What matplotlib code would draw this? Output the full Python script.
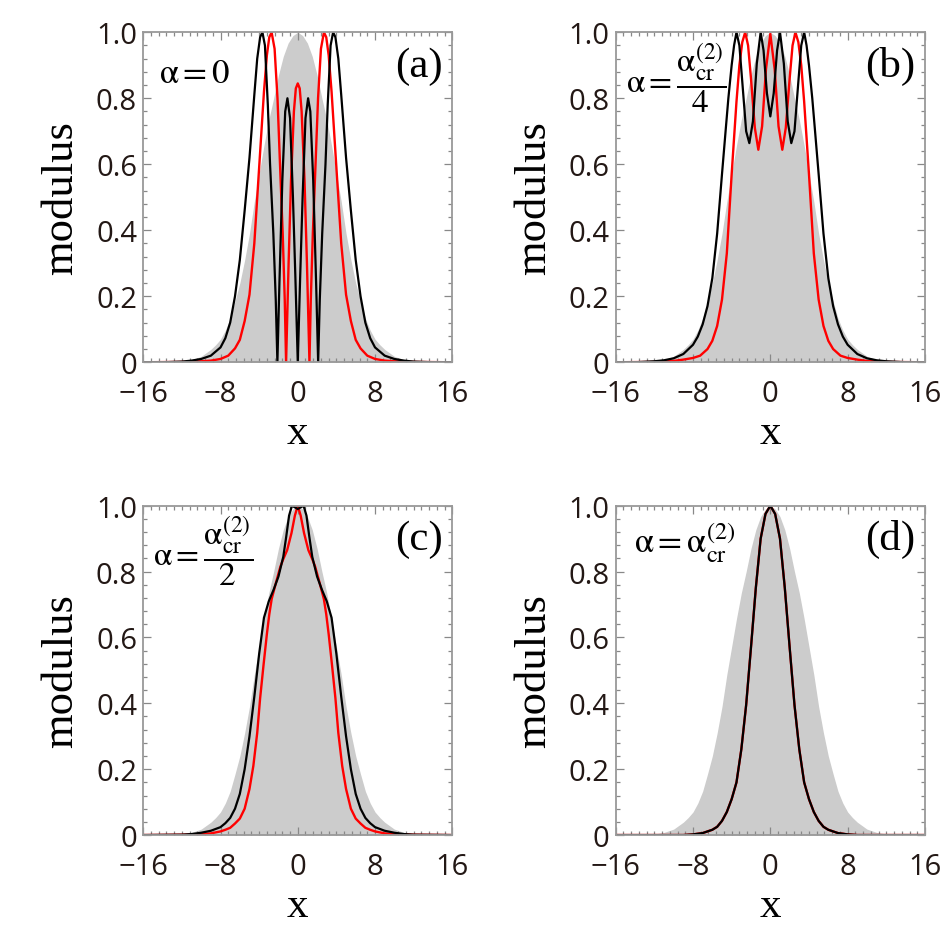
import matplotlib
matplotlib.use('Agg')
import matplotlib.pyplot as plt
from matplotlib.ticker import MultipleLocator

plt.rcParams['mathtext.fontset'] = 'stix'

# gray background profile (same in all four panels)
gray_x = [-16, -14, -13, -12, -11, -10, -9, -8.5, -8, -7.5, -7, -6.5, -6, -5.5, -5, -4.5, -4, -3.5, -3, -2.5,
          -2, -1.5, -1, -0.5, 0, 0.5, 1, 1.5, 2, 2.5, 3, 3.5, 4, 4.5, 5, 5.5, 6, 6.5, 7, 7.5, 8, 8.5, 9,
          10, 11, 12, 13, 14, 16]
gray_y = [0, 0, 0.001, 0.003, 0.008, 0.018, 0.039, 0.053, 0.07, 0.097, 0.133, 0.185, 0.24, 0.31, 0.39, 0.487,
          0.572, 0.657, 0.735, 0.80, 0.87, 0.927, 0.967, 0.99, 1.0, 0.99, 0.967, 0.927, 0.87, 0.80, 0.735,
          0.657, 0.572, 0.487, 0.39, 0.31, 0.24, 0.185, 0.133, 0.097, 0.07, 0.053, 0.039, 0.018, 0.008,
          0.003, 0.001, 0, 0]

# (a) alpha = 0
a_black_x = [-16, -14, -12, -11, -10, -9, -8, -7.5, -7, -6.5, -6, -5.5, -5, -4.5, -4.2, -3.9, -3.66, -3.4,
             -3.1, -2.87, -2.53, -2.28, -2.11, -1.9, -1.6, -1.3, -1.07, -0.8, -0.5, -0.25, 0, 0.25, 0.5, 0.8,
             1.07, 1.3, 1.6, 1.9, 2.11, 2.28, 2.53, 2.87, 3.1, 3.4, 3.66, 3.9, 4.2, 4.5, 5, 5.5, 6, 6.5, 7,
             7.5, 8, 9, 10, 11, 12, 14, 16]
a_black_y = [0, 0, 0.002, 0.005, 0.01, 0.02, 0.045, 0.073, 0.12, 0.2, 0.31, 0.46, 0.62, 0.81, 0.92, 0.985,
             1.0, 0.96, 0.78, 0.6, 0.39, 0.19, 0, 0.24, 0.55, 0.76, 0.80, 0.74, 0.5, 0.26, 0, 0.26, 0.5, 0.74,
             0.80, 0.76, 0.55, 0.24, 0, 0.19, 0.39, 0.6, 0.78, 0.96, 1.0, 0.985, 0.92, 0.81, 0.62, 0.46, 0.31,
             0.2, 0.12, 0.073, 0.045, 0.02, 0.01, 0.005, 0.002, 0, 0]
a_red_x = [-16, -12, -10, -9, -8, -7.2, -6.5, -6, -5.5, -5, -4.5, -4, -3.5, -3.2, -2.95, -2.71, -2.4, -2.1,
           -1.84, -1.56, -1.35, -1.21, -0.95, -0.7, -0.4, -0.2, 0, 0.2, 0.4, 0.7, 0.95, 1.21, 1.35, 1.56,
           1.84, 2.1, 2.4, 2.71, 2.95, 3.2, 3.5, 4, 4.5, 5, 5.5, 6, 6.5, 7.2, 8, 9, 10, 12, 16]
a_red_y = [0, 0.001, 0.003, 0.005, 0.01, 0.02, 0.042, 0.068, 0.125, 0.205, 0.36, 0.59, 0.82, 0.93, 0.985,
           1.0, 0.95, 0.8, 0.6, 0.39, 0.19, 0, 0.3, 0.55, 0.76, 0.83, 0.845, 0.83, 0.76, 0.55, 0.3, 0, 0.19,
           0.39, 0.6, 0.8, 0.95, 1.0, 0.985, 0.93, 0.82, 0.59, 0.36, 0.205, 0.125, 0.068, 0.042, 0.02, 0.01,
           0.005, 0.003, 0.001, 0]

# (b) alpha = alpha_cr/4
b_black_x = [-16, -14, -12, -11, -10, -9, -8, -7.5, -7, -6.5, -6, -5.5, -5, -4.6, -4.34, -4, -3.75, -3.5,
             -3.2, -2.9, -2.5, -2.17, -1.8, -1.4, -1.0, -0.7, -0.35, 0, 0.35, 0.7, 1.0, 1.4, 1.8, 2.17, 2.5,
             2.9, 3.2, 3.5, 3.75, 4, 4.34, 4.6, 5, 5.5, 6, 6.5, 7, 7.5, 8, 9, 10, 11, 12, 14, 16]
b_black_y = [0, 0, 0.003, 0.006, 0.012, 0.025, 0.053, 0.078, 0.115, 0.17, 0.255, 0.39, 0.57, 0.71, 0.8, 0.9,
             0.96, 1.0, 0.96, 0.85, 0.7, 0.664, 0.73, 0.905, 1.0, 0.945, 0.815, 0.745, 0.815, 0.945, 1.0,
             0.905, 0.73, 0.664, 0.7, 0.85, 0.96, 1.0, 0.96, 0.9, 0.8, 0.71, 0.57, 0.39, 0.255, 0.17, 0.115,
             0.078, 0.053, 0.025, 0.012, 0.006, 0.003, 0, 0]
b_red_x = [-16, -12, -10, -9, -8, -7.26, -6.5, -6, -5.5, -5, -4.5, -4, -3.5, -3.2, -2.9, -2.6, -2.3, -2.0,
           -1.6, -1.24, -0.85, -0.45, 0, 0.45, 0.85, 1.24, 1.6, 2.0, 2.3, 2.6, 2.9, 3.2, 3.5, 4, 4.5, 5, 5.5,
           6, 6.5, 7.26, 8, 9, 10, 12, 16]
b_red_y = [0, 0.001, 0.004, 0.008, 0.013, 0.02, 0.04, 0.065, 0.11, 0.19, 0.33, 0.57, 0.79, 0.9, 0.97, 1.0,
           0.96, 0.86, 0.71, 0.644, 0.715, 0.888, 0.995, 0.888, 0.715, 0.644, 0.71, 0.86, 0.96, 1.0, 0.97,
           0.9, 0.79, 0.57, 0.33, 0.19, 0.11, 0.065, 0.04, 0.02, 0.013, 0.008, 0.004, 0.001, 0]

# (c) alpha = alpha_cr/2
c_black_x = [-16, -12, -11, -10, -9, -8, -7.5, -7, -6.5, -6, -5.5, -5, -4.5, -4, -3.5, -3, -2.5, -2, -1.5,
             -1.2, -0.9, -0.6, -0.3, 0, 0.3, 0.6, 0.9, 1.2, 1.5, 2, 2.5, 3, 3.5, 4, 4.5, 5, 5.5, 6, 6.5, 7,
             7.5, 8, 9, 10, 11, 12, 16]
c_black_y = [0, 0.001, 0.003, 0.007, 0.013, 0.024, 0.036, 0.052, 0.08, 0.125, 0.2, 0.3, 0.42, 0.55, 0.66,
             0.71, 0.745, 0.785, 0.845, 0.905, 0.97, 1.0, 0.995, 0.99, 0.995, 1.0, 0.97, 0.905, 0.845, 0.785,
             0.745, 0.71, 0.66, 0.55, 0.42, 0.3, 0.2, 0.125, 0.08, 0.052, 0.036, 0.024, 0.013, 0.007, 0.003,
             0.001, 0]
c_red_x = [-16, -12, -10, -9, -8, -7.5, -7, -6.5, -6, -5.5, -5, -4.6, -4.2, -3.9, -3.55, -3.2, -2.95, -2.7,
           -2.25, -1.8, -1.5, -1.1, -0.65, -0.3, 0, 0.3, 0.65, 1.1, 1.5, 1.8, 2.25, 2.7, 2.95, 3.2, 3.55, 3.9,
           4.2, 4.6, 5, 5.5, 6, 6.5, 7, 7.5, 8, 9, 10, 12, 16]
c_red_y = [0, 0.001, 0.003, 0.005, 0.011, 0.016, 0.022, 0.035, 0.05, 0.08, 0.14, 0.21, 0.31, 0.415, 0.515,
           0.61, 0.67, 0.717, 0.767, 0.815, 0.838, 0.865, 0.917, 0.97, 1.0, 0.97, 0.917, 0.865, 0.838, 0.815,
           0.767, 0.717, 0.67, 0.61, 0.515, 0.415, 0.31, 0.21, 0.14, 0.08, 0.05, 0.035, 0.022, 0.016, 0.011,
           0.005, 0.003, 0.001, 0]

# (d) alpha = alpha_cr (red and black coincide)
d_x = [-16, -12, -9, -8, -7, -6, -5.5, -5, -4.5, -4, -3.5, -3, -2.5, -2, -1.5, -1, -0.5, 0, 0.5, 1, 1.5, 2,
       2.5, 3, 3.5, 4, 4.5, 5, 5.5, 6, 7, 8, 9, 12, 16]
d_y = [0, 0, 0, 0.002, 0.006, 0.016, 0.025, 0.043, 0.07, 0.109, 0.16, 0.26, 0.395, 0.57, 0.75, 0.9, 0.975,
       1.0, 0.975, 0.9, 0.75, 0.57, 0.395, 0.26, 0.16, 0.109, 0.07, 0.043, 0.025, 0.016, 0.006, 0.002, 0, 0, 0]

x_ticks = [-16, -8, 0, 8, 16]
x_tick_labels = ['\u221216', '\u22128', '0', '8', '16']
y_ticks = [0, 0.2, 0.4, 0.6, 0.8, 1.0]
y_tick_labels = ['0', '0.2', '0.4', '0.6', '0.8', '1.0']

letters = ['(a)', '(b)', '(c)', '(d)']
alpha_texts = [r'$\mathrm{α}=0$',
               r'$\mathrm{α}=\dfrac{\mathrm{α}_{\mathrm{cr}}^{(2)}}{4}$',
               r'$\mathrm{α}=\dfrac{\mathrm{α}_{\mathrm{cr}}^{(2)}}{2}$',
               r'$\mathrm{α}=\mathrm{α}_{\mathrm{cr}}^{(2)}$']
alpha_sizes = [25, 24, 24, 25]

panels = [
    ([0.1516, 0.6156, 0.327, 0.3492], a_red_x, a_red_y, a_black_x, a_black_y, (0.05, 0.88)),
    ([0.6515, 0.6156, 0.3273, 0.3492], b_red_x, b_red_y, b_black_x, b_black_y, (0.035, 0.865)),
    ([0.1516, 0.1153, 0.327, 0.3485], c_red_x, c_red_y, c_black_x, c_black_y, (0.03, 0.865)),
    ([0.6515, 0.1153, 0.3273, 0.3485], d_x, d_y, d_x, d_y, (0.06, 0.89)),
]

fig = plt.figure(figsize=(9.45, 9.45), dpi=100)

for i, (pos, rx, ry, bx, by, txy) in enumerate(panels):
    ax = fig.add_axes(pos)
    ax.fill_between(gray_x, gray_y, 0, color='#cccccc', linewidth=0)
    ax.plot(rx, ry, color='#ff0000', linewidth=1.7)
    ax.plot(bx, by, color='black', linewidth=1.6)
    ax.set_xlim(-16, 16)
    ax.set_ylim(0, 1)

    ax.set_xticks(x_ticks)
    ax.set_xticklabels(x_tick_labels, fontfamily='Open Sans', fontsize=21, color='#231815')
    ax.set_yticks(y_ticks)
    ax.set_yticklabels(y_tick_labels, fontfamily='Open Sans', fontsize=21, color='#231815')
    ax.xaxis.set_minor_locator(MultipleLocator(0.8))
    ax.yaxis.set_minor_locator(MultipleLocator(0.04))
    ax.tick_params(which='both', direction='in', top=True, right=True, color='#888888', width=0.9)
    ax.tick_params(which='major', length=6)
    ax.tick_params(which='minor', length=3)
    ax.tick_params(axis='x', which='major', pad=12)
    ax.tick_params(axis='y', which='major', pad=4.5)
    for sp in ax.spines.values():
        sp.set_color('#999999')
        sp.set_linewidth(1.3)

    ax.set_xlabel('x', fontfamily='Liberation Serif', fontsize=31)
    ax.set_ylabel('modulus', fontfamily='Liberation Serif', fontsize=32)
    ax.xaxis.set_label_coords(0.5, -0.155)
    ax.yaxis.set_label_coords(-0.2, 0.5)

    ax.text(0.97, 0.9, letters[i], transform=ax.transAxes, ha='right', va='center',
            fontfamily='Liberation Serif', fontsize=31)
    ax.text(txy[0], txy[1], alpha_texts[i], transform=ax.transAxes, ha='left', va='center',
            fontsize=alpha_sizes[i])

fig.savefig('out.png', dpi=100)
